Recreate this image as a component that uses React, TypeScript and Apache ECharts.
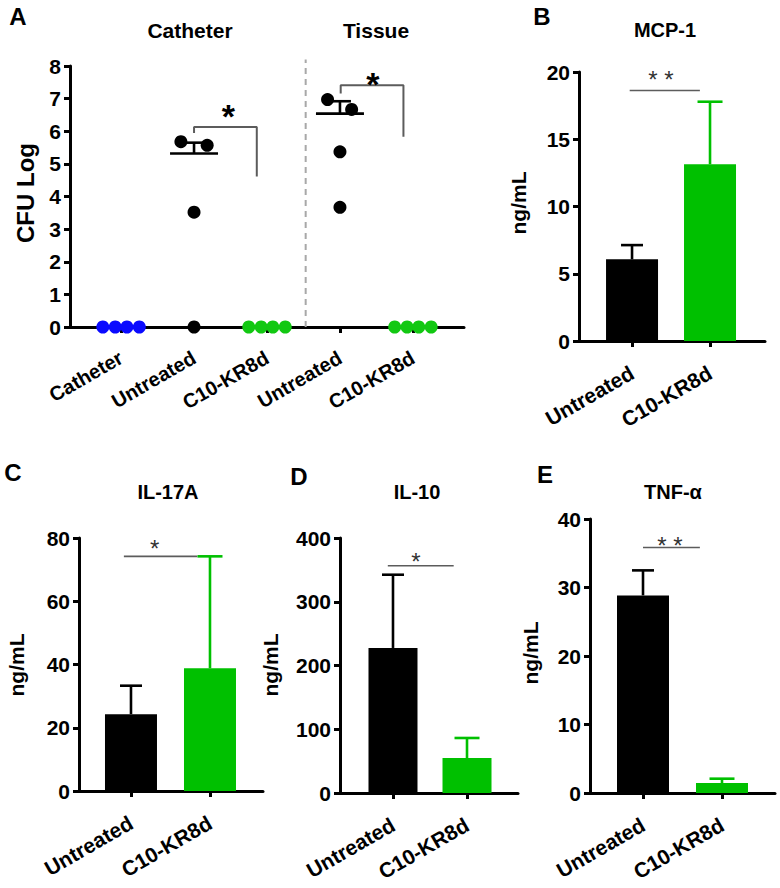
import { useEffect, useRef } from 'react';
import * as echarts from 'echarts';

const FONT = '"Liberation Sans", Arial, Helvetica, sans-serif';
const GREEN = '#00c000';
const DOT_GREEN = '#12c812';
const BLUE = '#0a0aff';
const BLACK = '#000000';
const SIG = '#5c5c5c';

// ---------- Panel A data ----------
const aCategories = ['Catheter', 'Untreated', 'C10-KR8d', 'Untreated', 'C10-KR8d'];
const catheterOnly = [0, 0, 0, 0];
const catheterUntreated = [5.68, 5.57, 3.52, 0];
const catheterC10 = [0, 0, 0, 0];
const tissueUntreated = [6.97, 6.67, 5.37, 3.67];
const tissueC10 = [0, 0, 0, 0];
const jitterFlat = [-0.25, -0.08, 0.08, 0.25];
const jitterCatUntreated = [-0.18, 0.18, 0, 0];
const jitterTisUntreated = [-0.17, 0.16, 0, 0];
const aMeanCats = [2, 4];
const aMeans = [5.32, 6.54];
const aUppers = [5.65, 6.92];
const aCatBracket = [[2.0, 5.95], [2.0, 6.13], [2.86, 6.13], [2.86, 4.61]];
const aTisBracket = [[4.01, 7.16], [4.01, 7.41], [4.87, 7.41], [4.87, 5.83]];
const aStars = [[2.47, 6.7, 1], [4.45, 7.69, 1]];
const aSeparator = [[3.53, 0], [3.53, 8.2]];

// ---------- Bar panels data ----------
const barCategories = ['Untreated', 'C10-KR8d'];
const mcpMean = [6.07, 13.14];
const mcpUpper = [7.13, 17.79];
const mcpSigLine = [[0.97, 18.63], [1.87, 18.63]];
const mcpStars = [[1.37, 19.87, 2]];

const il17Mean = [24.3, 38.8];
const il17Upper = [33.3, 74.2];
const il17SigLine = [[0.91, 74.2], [1.84, 74.2]];
const il17Stars = [[1.3, 78.3, 1]];

const il10Mean = [227.5, 54.9];
const il10Upper = [342.4, 86.3];
const il10SigLine = [[0.93, 356.5], [1.82, 356.5]];
const il10Stars = [[1.31, 372, 1]];

const tnfMean = [28.85, 1.46];
const tnfUpper = [32.5, 2.09];
const tnfSigLine = [[1.0, 35.85], [1.72, 35.85]];
const tnfStars = [[1.34, 37.0, 2]];

const LABEL_ROTATE = 30;

const errRender = (colors: string[], capHalf: number[], meanHalf = 0) => (params: any, api: any) => {
  const x = api.value(0);
  const m = api.value(1);
  const u = api.value(2);
  const pm = api.coord([x, m]);
  const pu = api.coord([x, u]);
  const i = params.dataIndex;
  const c = colors[i % colors.length];
  const ch = capHalf[i % capHalf.length];
  const st = { stroke: c, lineWidth: 2.6 };
  const children: any[] = [
    { type: 'line', shape: { x1: pm[0], y1: pm[1], x2: pu[0], y2: pu[1] }, style: st },
    { type: 'line', shape: { x1: pu[0] - ch, y1: pu[1], x2: pu[0] + ch, y2: pu[1] }, style: st },
  ];
  if (meanHalf) {
    children.push({ type: 'line', shape: { x1: pm[0] - meanHalf, y1: pm[1], x2: pm[0] + meanHalf, y2: pm[1] }, style: st });
  }
  return { type: 'group', children };
};

const starRender = (fontSize: number, fill: string, weight: string, gap: number) => (_params: any, api: any) => {
  const p = api.coord([api.value(0), api.value(1)]);
  const count = api.value(2);
  const children: any[] = [];
  for (let k = 0; k < count; k++) {
    const dx = (k - (count - 1) / 2) * gap;
    children.push({
      type: 'text',
      x: p[0] + dx,
      y: p[1] + 0.23 * fontSize,
      style: { text: '*', fill, fontSize, fontWeight: weight, fontFamily: FONT, align: 'center', verticalAlign: 'middle' },
    });
  }
  return { type: 'group', children };
};

function buildOption() {
  const grids: any[] = [];
  const xAxes: any[] = [];
  const yAxes: any[] = [];
  const series: any[] = [];

  const axisLineStyle = { color: BLACK, width: 3 };
  const tickStyle = { color: BLACK, width: 3 };

  // ----- Panel A -----
  grids.push({ left: 70, top: 66, width: 394, height: 261, outerBoundsMode: 'none', containLabel: false });
  xAxes.push({
    type: 'value', gridIndex: 0, min: 0.3, max: 5.7,
    axisLine: { show: true, onZero: false, lineStyle: axisLineStyle },
    axisTick: { show: true, customValues: [1, 2, 3, 4, 5], length: 6, lineStyle: tickStyle },
    axisLabel: {
      show: true, customValues: [1, 2, 3, 4, 5],
      formatter: (v: number) => aCategories[Math.round(v) - 1] ?? '',
      rotate: LABEL_ROTATE, align: 'right', verticalAlign: 'middle', margin: 29,
      fontSize: 20, fontWeight: 'bold', color: BLACK, fontFamily: FONT,
    },
    splitLine: { show: false },
  });
  yAxes.push({
    type: 'value', gridIndex: 0, min: 0, max: 8, interval: 1,
    axisLine: { show: true, lineStyle: axisLineStyle },
    axisTick: { show: true, length: 6, lineStyle: tickStyle },
    axisLabel: { margin: 9, fontSize: 21, fontWeight: 'bold', color: BLACK, fontFamily: FONT },
    splitLine: { show: false },
  });

  series.push({
    type: 'line', xAxisIndex: 0, yAxisIndex: 0, data: aSeparator, symbol: 'none', clip: false, silent: true,
    lineStyle: { color: '#a8a8a8', width: 2, type: [6, 5] }, z: 1,
  });
  const dotSeries = (vals: number[], jit: number[], cat: number, color: string) => ({
    type: 'scatter', xAxisIndex: 0, yAxisIndex: 0, symbol: 'circle', symbolSize: 13, silent: true,
    data: vals.map((v, k) => [cat + jit[k], v]), itemStyle: { color, opacity: 1 }, z: 4,
  });
  series.push(dotSeries(catheterOnly, jitterFlat, 1, BLUE));
  series.push(dotSeries(catheterUntreated, jitterCatUntreated, 2, BLACK));
  series.push(dotSeries(catheterC10, jitterFlat, 3, DOT_GREEN));
  series.push(dotSeries(tissueUntreated, jitterTisUntreated, 4, BLACK));
  series.push(dotSeries(tissueC10, jitterFlat, 5, DOT_GREEN));
  series.push({
    type: 'custom', xAxisIndex: 0, yAxisIndex: 0, silent: true, z: 5,
    data: aMeanCats.map((c, k) => [c, aMeans[k], aUppers[k]]),
    encode: { x: 0, y: [1, 2] },
    renderItem: errRender([BLACK], [11], 24),
  });
  [aCatBracket, aTisBracket].forEach((b) => {
    series.push({
      type: 'line', xAxisIndex: 0, yAxisIndex: 0, data: b, symbol: 'none', silent: true,
      lineStyle: { color: SIG, width: 2 }, z: 3,
    });
  });
  series.push({
    type: 'custom', xAxisIndex: 0, yAxisIndex: 0, silent: true, z: 6,
    data: aStars, encode: { x: 0, y: 1 },
    renderItem: starRender(34, BLACK, 'bold', 14),
  });

  // ----- Bar panels -----
  const panels = [
    { grid: { left: 579, top: 72, width: 186, height: 269 }, xMin: 0.32, xMax: 2.705, yMax: 20, yInt: 5, bw: 52, means: mcpMean, ups: mcpUpper, sig: mcpSigLine, stars: mcpStars },
    { grid: { left: 79, top: 538, width: 184, height: 253 }, xMin: 0.342, xMax: 2.671, yMax: 80, yInt: 20, bw: 52, means: il17Mean, ups: il17Upper, sig: il17SigLine, stars: il17Stars },
    { grid: { left: 340, top: 538, width: 178, height: 255 }, xMin: 0.284, xMax: 2.689, yMax: 400, yInt: 100, bw: 49, means: il10Mean, ups: il10Upper, sig: il10SigLine, stars: il10Stars },
    { grid: { left: 590, top: 519, width: 185, height: 274 }, xMin: 0.329, xMax: 2.671, yMax: 40, yInt: 10, bw: 52, means: tnfMean, ups: tnfUpper, sig: tnfSigLine, stars: tnfStars },
  ];

  panels.forEach((p, n) => {
    const gi = n + 1;
    grids.push({ ...p.grid, outerBoundsMode: 'none', containLabel: false });
    xAxes.push({
      type: 'value', gridIndex: gi, min: p.xMin, max: p.xMax,
      axisLine: { show: true, onZero: false, lineStyle: axisLineStyle },
      axisTick: { show: true, customValues: [1, 2], length: 6, lineStyle: tickStyle },
      axisLabel: {
        show: true, customValues: [1, 2],
        formatter: (v: number) => barCategories[Math.round(v) - 1] ?? '',
        rotate: LABEL_ROTATE, align: 'right', verticalAlign: 'middle', margin: 30,
        fontSize: 21, fontWeight: 'bold', color: BLACK, fontFamily: FONT,
      },
      splitLine: { show: false },
    });
    yAxes.push({
      type: 'value', gridIndex: gi, min: 0, max: p.yMax, interval: p.yInt,
      axisLine: { show: true, lineStyle: axisLineStyle },
      axisTick: { show: true, length: 6, lineStyle: tickStyle },
      axisLabel: { margin: 9, fontSize: 21, fontWeight: 'bold', color: BLACK, fontFamily: FONT },
      splitLine: { show: false },
    });
    series.push({
      type: 'bar', xAxisIndex: gi, yAxisIndex: gi, barWidth: p.bw, silent: true, z: 2,
      data: p.means.map((m, k) => ({ value: [k + 1, m], itemStyle: { color: k === 0 ? BLACK : GREEN } })),
    });
    series.push({
      type: 'custom', xAxisIndex: gi, yAxisIndex: gi, silent: true, z: 3,
      data: p.means.map((m, k) => [k + 1, m, p.ups[k]]),
      encode: { x: 0, y: [1, 2] },
      renderItem: errRender([BLACK, GREEN], [11, 12.5]),
    });
    series.push({
      type: 'line', xAxisIndex: gi, yAxisIndex: gi, data: p.sig, symbol: 'none', silent: true, clip: false,
      lineStyle: { color: SIG, width: 1.6 }, z: 2,
    });
    series.push({
      type: 'custom', xAxisIndex: gi, yAxisIndex: gi, silent: true, z: 4,
      data: p.stars, encode: { x: 0, y: 1 },
      renderItem: starRender(24, '#333333', 'normal', 16),
    });
  });

  const txt = (text: string, x: number, y: number, size: number, rot = 0) => ({
    type: 'text', x, y, rotation: rot, silent: true,
    style: { text, fill: BLACK, fontSize: size, fontWeight: 'bold', fontFamily: FONT, align: 'center', verticalAlign: 'middle' },
  });

  const graphic: any[] = [
    txt('A', 18, 16, 24),
    txt('B', 542, 16, 24),
    txt('C', 13, 472, 24),
    txt('D', 299, 476, 24),
    txt('E', 545, 474, 24),
    txt('Catheter', 190, 30, 21),
    txt('Tissue', 376, 30, 21),
    txt('MCP-1', 665, 30, 20),
    txt('IL-17A', 168, 492, 20),
    txt('IL-10', 417, 492, 20),
    txt('TNF-α', 673, 492, 20),
    txt('CFU Log', 25, 193, 24, Math.PI / 2),
    txt('ng/mL', 518, 203, 21, Math.PI / 2),
    txt('ng/mL', 16, 665, 21, Math.PI / 2),
    txt('ng/mL', 270, 665, 21, Math.PI / 2),
    txt('ng/mL', 530, 653, 21, Math.PI / 2),
  ];

  return {
    animation: false,
    backgroundColor: '#ffffff',
    textStyle: { fontFamily: FONT },
    grid: grids,
    xAxis: xAxes,
    yAxis: yAxes,
    series,
    graphic,
  };
}

export default function App() {
  const ref = useRef<HTMLDivElement>(null);
  useEffect(() => {
    if (!ref.current) return;
    const chart = echarts.init(ref.current, null, { renderer: 'svg' });
    chart.setOption(buildOption() as any);
    return () => chart.dispose();
  }, []);
  return (
    <div
      ref={ref}
      style={{ position: 'absolute', left: 0, top: 0, width: 780, height: 888, background: '#ffffff' }}
    />
  );
}
